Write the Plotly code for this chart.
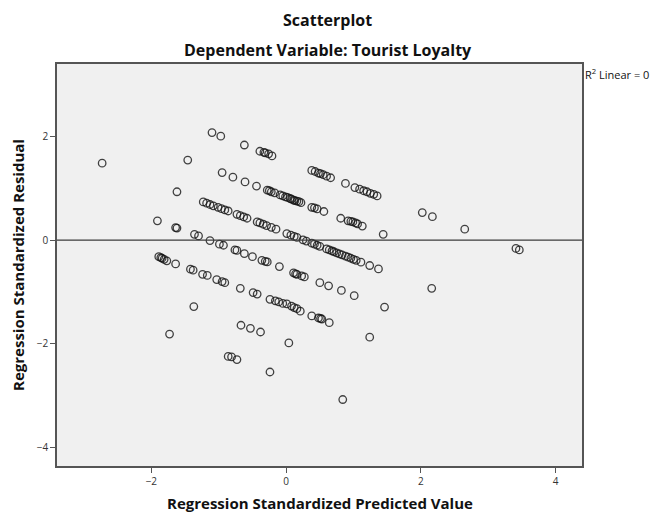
import plotly.graph_objects as go

# Regression standardized predicted value (x) and residual (y)
pred_a = [-1.10, -0.97, -0.62, -0.39, -0.33, -0.31, -0.26, -0.21, 0.38, 0.43, 0.48, 0.51, 0.55, 0.60, 0.66,
          0.88, 1.02, 1.09, 1.15, 1.20, 1.25, 1.30, 1.35, 2.02, 2.17, 2.65, 3.41, 3.46]
resid_a = [2.07, 2.00, 1.83, 1.71, 1.69, 1.68, 1.66, 1.62, 1.34, 1.32, 1.29, 1.28, 1.26, 1.23, 1.20,
           1.09, 1.01, 0.98, 0.95, 0.93, 0.90, 0.88, 0.85, 0.53, 0.45, 0.21, -0.16, -0.19]

pred_b = [-1.46, -0.95, -0.79, -0.61, -0.44, -0.28, -0.25, -0.22, -0.17, -0.09, -0.05, -0.01, 0.02, 0.06,
          0.08, 0.11, 0.13, 0.16, 0.19, 0.22, 0.38, 0.42, 0.46, 0.56, 0.81, 0.92, 0.96, 0.99, 1.03, 1.06,
          1.13, 1.44]
resid_b = [1.54, 1.30, 1.21, 1.12, 1.04, 0.96, 0.95, 0.93, 0.91, 0.87, 0.85, 0.83, 0.82, 0.80,
           0.79, 0.77, 0.76, 0.75, 0.74, 0.72, 0.63, 0.62, 0.60, 0.55, 0.42, 0.37, 0.36, 0.35, 0.33, 0.31,
           0.27, 0.11]

pred_c = [-2.73, -1.62, -1.23, -1.18, -1.13, -1.08, -1.01, -0.96, -0.91, -0.86, -0.73, -0.68, -0.63, -0.58,
          -0.43, -0.39, -0.34, -0.29, -0.22, -0.15, 0.01, 0.07, 0.12, 0.16, 0.25, 0.30, 0.38, 0.42, 0.46,
          0.50, 0.60, 0.64, 0.68, 0.71, 0.75, 0.79, 0.83, 0.88, 0.92, 0.96, 1.00, 1.04, 1.11, 1.24, 1.37, 2.16]
resid_c = [1.48, 0.93, 0.735, 0.71, 0.685, 0.66, 0.63, 0.605, 0.58, 0.56, 0.495, 0.47, 0.445, 0.42,
           0.35, 0.33, 0.305, 0.28, 0.245, 0.21, 0.125, 0.095, 0.07, 0.05, 0.005, -0.02, -0.06, -0.08, -0.10,
           -0.12, -0.17, -0.19, -0.21, -0.225, -0.245, -0.265, -0.285, -0.31, -0.33, -0.35, -0.37, -0.39,
           -0.425, -0.49, -0.555, -0.93]

pred_d = [-1.91, -1.64, -1.62, -1.36, -1.30, -1.13, -0.99, -0.93, -0.76, -0.73, -0.62, -0.50, -0.36, -0.31,
          -0.28, -0.10, 0.11, 0.14, 0.16, 0.23, 0.27, 0.50, 0.63, 0.82, 1.01, 1.46]
resid_d = [0.37, 0.24, 0.23, 0.11, 0.08, -0.01, -0.08, -0.10, -0.19, -0.20, -0.26, -0.32, -0.39, -0.41,
           -0.42, -0.51, -0.63, -0.65, -0.66, -0.69, -0.71, -0.82, -0.88, -0.97, -1.07, -1.29]

pred_e = [-1.89, -1.86, -1.84, -1.81, -1.77, -1.64, -1.42, -1.38, -1.24, -1.17, -1.03, -0.95, -0.91, -0.68,
          -0.49, -0.43, -0.24, -0.16, -0.11, -0.05, 0.01, 0.08, 0.12, 0.16, 0.21, 0.38, 0.48, 0.51, 0.53,
          0.64, 1.24]
resid_e = [-0.32, -0.34, -0.35, -0.37, -0.40, -0.46, -0.56, -0.58, -0.66, -0.68, -0.76, -0.80, -0.82, -0.93,
           -1.01, -1.04, -1.14, -1.17, -1.19, -1.22, -1.23, -1.27, -1.30, -1.32, -1.37, -1.46, -1.50, -1.51,
           -1.52, -1.59, -1.87]

pred_f = [-1.37, -0.67, -0.53, -0.38, 0.04]
resid_f = [-1.28, -1.64, -1.70, -1.77, -1.98]

pred_g = [-1.73, -0.86, -0.81, -0.73, -0.24, 0.84]
resid_g = [-1.81, -2.24, -2.25, -2.30, -2.54, -3.07]

pred = pred_a + pred_b + pred_c + pred_d + pred_e + pred_f + pred_g
resid = resid_a + resid_b + resid_c + resid_d + resid_e + resid_f + resid_g

x_ticks = [-2, 0, 2, 4]
y_ticks = [-4, -2, 0, 2]
x_range = [-3.40, 4.39]
y_range = [-4.35, 3.39]
fit_value = 0  # R2 linear = 0 -> horizontal fit line at residual 0

FONT = "Open Sans"

fig = go.Figure()
fig.add_trace(go.Scatter(
    x=pred, y=resid, mode="markers",
    marker=dict(symbol="circle-open", size=7.5, color="rgba(20,20,20,0.8)",
                line=dict(width=1.3, color="rgba(20,20,20,0.8)")),
    hoverinfo="x+y", showlegend=False,
))

fig.add_shape(type="line", xref="paper", x0=0, x1=1, yref="y", y0=fit_value, y1=fit_value,
              line=dict(color="#3c3c3c", width=1.3), layer="above")

axis_common = dict(showgrid=False, zeroline=False, showline=True, mirror=True,
                   linecolor="#555555", linewidth=1.5, ticks="outside", ticklen=5,
                   tickwidth=1.2, tickcolor="#555555",
                   tickfont=dict(family=FONT, size=10, color="#333333"))

fig.update_layout(
    width=656, height=516,
    margin=dict(l=57, r=74, t=64, b=50),
    paper_bgcolor="white", plot_bgcolor="#f0f0f0",
    xaxis=dict(range=x_range, tickvals=x_ticks, **axis_common),
    yaxis=dict(range=y_range, tickvals=y_ticks, **axis_common),
    annotations=[
        dict(text="<b>Scatterplot</b>", xref="paper", yref="paper", x=0.516, y=1.109,
             xanchor="center", yanchor="middle", showarrow=False,
             font=dict(family=FONT, size=16, color="#111111")),
        dict(text="<b>Dependent Variable: Tourist Loyalty</b>", xref="paper", yref="paper",
             x=0.516, y=1.035, xanchor="center", yanchor="middle", showarrow=False,
             font=dict(family=FONT, size=16, color="#111111")),
        dict(text="<b>Regression Standardized Predicted Value</b>", xref="paper", yref="paper",
             x=0.5, y=-0.092, xanchor="center", yanchor="middle", showarrow=False,
             font=dict(family=FONT, size=15, color="#111111")),
        dict(text="<b>Regression Standardized Residual</b>", xref="paper", yref="paper",
             x=-0.0743, y=0.5, xanchor="center", yanchor="middle", textangle=-90,
             showarrow=False, font=dict(family=FONT, size=15, color="#111111")),
        dict(text="R<sup>2</sup> Linear = 0", xref="paper", yref="paper", x=1.0, y=1.0,
             xanchor="left", yanchor="top", xshift=1, showarrow=False,
             font=dict(family=FONT, size=11, color="#111111")),
    ],
)

fig.write_html("out.html", config={"displayModeBar": False},
               post_script="document.body.style.margin='0px';")
